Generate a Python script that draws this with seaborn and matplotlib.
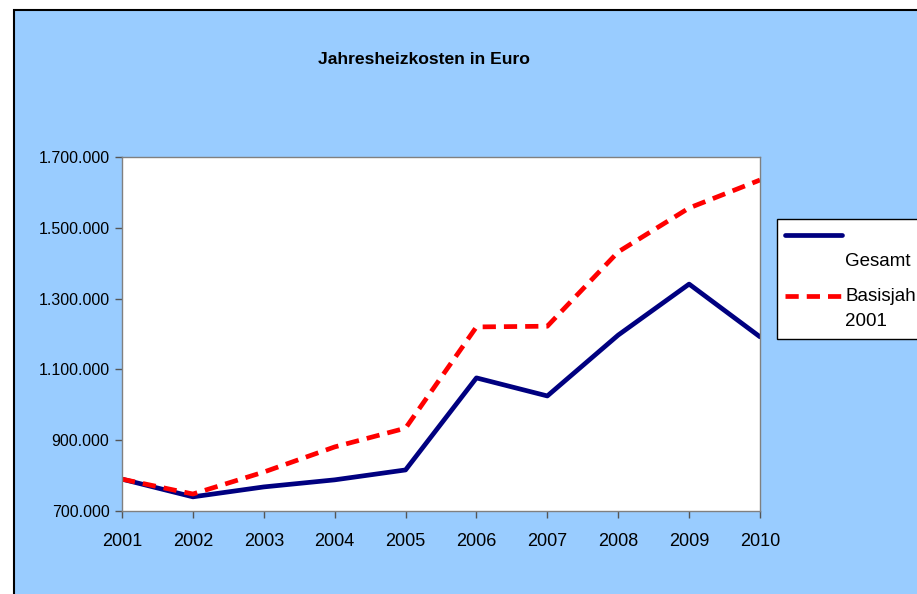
import matplotlib
matplotlib.use("Agg")
import matplotlib.pyplot as plt
from matplotlib.patches import Rectangle
from matplotlib.ticker import FuncFormatter
from matplotlib.legend_handler import HandlerLine2D
import pandas as pd
import seaborn as sns

# values
years = [2001, 2002, 2003, 2004, 2005, 2006, 2007, 2008, 2009, 2010]
gesamt = [790000, 740000, 768000, 788000, 816000, 1076000, 1025000, 1197000, 1341000, 1192000]
basisjahr = [790000, 748000, 810000, 881000, 934000, 1220000, 1222000, 1432000, 1556000, 1635000]

df = pd.DataFrame({"Jahr": years, "Gesamt": gesamt, "Basis": basisjahr})

sns.set_style("white")
plt.rcParams["font.family"] = ["Liberation Sans", "DejaVu Sans"]
plt.rcParams["text.color"] = "black"
plt.rcParams["xtick.color"] = "black"
plt.rcParams["ytick.color"] = "black"

LEG_FS = 13.5
LEG_LS = 1.66


class TopHandler(HandlerLine2D):
    # Excel puts the legend line next to the first text line, not the middle
    def create_artists(self, legend, orig_handle, xdescent, ydescent, width, height,
                       fontsize, trans):
        arts = super().create_artists(legend, orig_handle, xdescent, ydescent, width,
                                      height, fontsize, trans)
        for a in arts:
            a.set_ydata(a.get_ydata() + 9.5)
        return arts


fig = plt.figure(figsize=(9.17, 5.94), dpi=100)
fig.patch.set_facecolor("white")

# light blue chart area with black border (cut off right/bottom)
bg = Rectangle((14 / 917, -0.05), 1.0, 1 - 10 / 594 + 0.05, transform=fig.transFigure,
               facecolor="#99CCFF", edgecolor="black", linewidth=1.5, zorder=-10)
fig.patches.append(bg)

ax = fig.add_axes([122 / 917, 1 - 511 / 594, (760 - 122) / 917, (511 - 157) / 594])
ax.set_facecolor("white")

sns.lineplot(data=df, x="Jahr", y="Gesamt", ax=ax, color="#000080", linewidth=3.4,
             label="\nGesamt")
sns.lineplot(data=df, x="Jahr", y="Basis", ax=ax, color="#FF0000", linewidth=3.4,
             dashes=False, label="Basisjahr\n2001")
ax.lines[1].set_dashes((2.8, 1.7))

ax.set_xlim(2001, 2010)
ax.set_ylim(700000, 1700000)
ax.set_xticks(years)
ax.set_yticks(range(700000, 1700001, 200000))
ax.yaxis.set_major_formatter(FuncFormatter(lambda v, p: f"{int(v):,}".replace(",", ".")))
ax.set_xlabel("")
ax.set_ylabel("")
ax.tick_params(axis="x", labelsize=13, length=5, width=1, color="#555555", pad=11, direction="out")
ax.tick_params(axis="y", labelsize=11.5, length=5, width=1, color="#555555", pad=4, direction="out")
ax.tick_params(bottom=True, left=True)
for s in ax.spines.values():
    s.set_color("#808080")
    s.set_linewidth(1)

fig.text(424 / 917, 1 - 59 / 594, "Jahresheizkosten in Euro", ha="center", va="center",
         fontsize=12.6, fontweight="bold")

ax.get_legend().remove()
handles, labels = ax.get_legend_handles_labels()
leg = fig.legend(handles, labels, loc="upper left", bbox_to_anchor=(777 / 917, 1 - 219 / 594),
                 fontsize=LEG_FS, frameon=True, fancybox=False, edgecolor="black",
                 facecolor="white", framealpha=1, handlelength=3.0, handletextpad=0.18,
                 borderpad=0.45, labelspacing=0.95, borderaxespad=0,
                 handler_map={h: TopHandler() for h in handles})
leg.get_frame().set_linewidth(1)
for t in leg.get_texts():
    t.set_linespacing(LEG_LS)

fig.savefig("out.png", dpi=100, facecolor=fig.get_facecolor())
